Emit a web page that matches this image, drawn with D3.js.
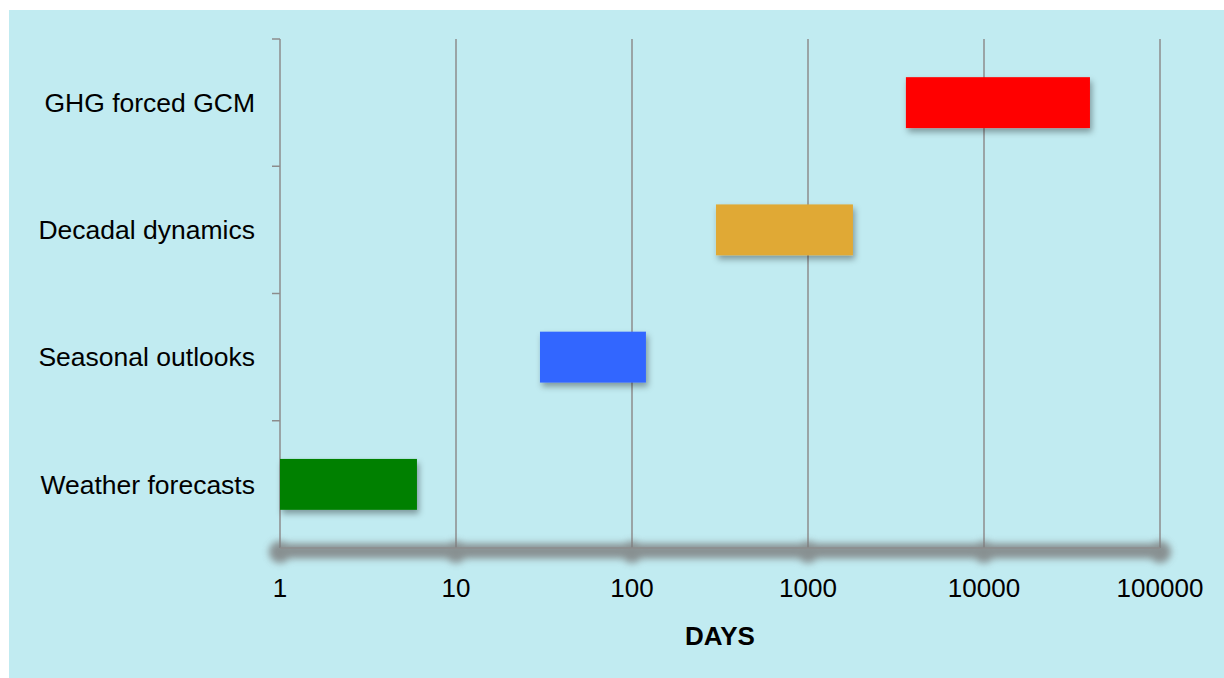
<!DOCTYPE html>
<html>
<head>
<meta charset="utf-8">
<script src="https://cdn.jsdelivr.net/npm/d3@7"></script>
<style>
	body { margin: 0; background: #ffffff; }
	svg text { font-family: "Liberation Sans", Arial, sans-serif; fill: #000000; }
</style>
</head>
<body>
<div id="chart"></div>
<script>
// chart data
var categories = ["Weather forecasts", "Seasonal outlooks", "Decadal dynamics", "GHG forced GCM"];
var startDays = [1, 30, 300, 3600];
var endDays = [6, 120, 1800, 40000];
var barColors = ["#008000", "#3366ff", "#e0a935", "#ff0000"];
var tickValues = [1, 10, 100, 1000, 10000, 100000];
var axisTitle = "DAYS";

var width = 1224, height = 678;

// plot area
var offsetLeft = 280, offsetRight = 64, offsetTop = 39, offsetBottom = 130;

var svg = d3.select("#chart").append("svg")
	.attr("width", width)
	.attr("height", height);

var defs = svg.append("defs");
var shadow = defs.append("filter").attr("id", "barShadow")
	.attr("x", "-20%").attr("y", "-30%").attr("width", "140%").attr("height", "170%");
shadow.append("feDropShadow")
	.attr("dx", 2).attr("dy", 4).attr("stdDeviation", 3)
	.attr("flood-color", "#000").attr("flood-opacity", 0.35);

var blur = defs.append("filter").attr("id", "axisBlur")
	.attr("x", "-5%").attr("y", "-300%").attr("width", "110%").attr("height", "700%");
blur.append("feGaussianBlur").attr("stdDeviation", 3.5);

// background panel
svg.append("rect")
	.attr("x", 9).attr("y", 10)
	.attr("width", width - 9).attr("height", height - 10)
	.attr("fill", "#c1ebf1");

var x = d3.scaleLog()
	.domain([1, 100000])
	.range([offsetLeft, width - offsetRight]);

var y = d3.scaleBand()
	.domain(categories.slice().reverse())
	.range([offsetTop, height - offsetBottom])
	.paddingInner(0.6)
	.paddingOuter(0.3);

var y0 = offsetTop, y1 = height - offsetBottom;

// vertical grid lines
svg.append("g").selectAll("line")
	.data(tickValues)
	.enter()
	.append("line")
	.attr("x1", function(d) { return x(d); })
	.attr("x2", function(d) { return x(d); })
	.attr("y1", y0)
	.attr("y2", y1)
	.attr("stroke", "#8c8c8c")
	.attr("stroke-width", 1.5);

// category tick marks on the left axis (band boundaries)
var boundaries = d3.range(categories.length + 1).map(function(i) { return y0 + i * y.step(); });
svg.append("g").selectAll("line")
	.data(boundaries.slice(0, categories.length))
	.enter()
	.append("line")
	.attr("x1", offsetLeft - 8)
	.attr("x2", offsetLeft)
	.attr("y1", function(d) { return d; })
	.attr("y2", function(d) { return d; })
	.attr("stroke", "#8c8c8c")
	.attr("stroke-width", 1.5);

// blurred x axis with its shadowy tick dots
var axisShadow = svg.append("g").attr("filter", "url(#axisBlur)").attr("opacity", 0.8);
axisShadow.append("line")
	.attr("x1", x(1)).attr("x2", x(100000))
	.attr("y1", y1 + 3).attr("y2", y1 + 3)
	.attr("stroke", "#7a7a7a")
	.attr("stroke-width", 15)
	.attr("stroke-linecap", "round");
axisShadow.selectAll("circle")
	.data(tickValues)
	.enter()
	.append("circle")
	.attr("cx", function(d) { return x(d); })
	.attr("cy", y1 + 4)
	.attr("r", 11)
	.attr("fill", "#7a7a7a");

svg.append("line")
	.attr("x1", x(1)).attr("x2", x(100000))
	.attr("y1", y1).attr("y2", y1)
	.attr("stroke", "#8c8c8c")
	.attr("stroke-width", 1.5);

// bars
svg.append("g").selectAll("rect")
	.data(categories)
	.enter()
	.append("rect")
	.attr("x", function(d, i) { return x(startDays[i]); })
	.attr("y", function(d) { return y(d); })
	.attr("width", function(d, i) { return x(endDays[i]) - x(startDays[i]); })
	.attr("height", y.bandwidth())
	.attr("fill", function(d, i) { return barColors[i]; })
	.attr("filter", "url(#barShadow)");

// category labels
svg.append("g").selectAll("text")
	.data(categories)
	.enter()
	.append("text")
	.text(function(d) { return d; })
	.attr("x", 255)
	.attr("y", function(d) { return y(d) + y.bandwidth() / 2; })
	.attr("dy", "0.35em")
	.attr("text-anchor", "end")
	.style("font-size", "26.5px");

// tick labels
svg.append("g").selectAll("text")
	.data(tickValues)
	.enter()
	.append("text")
	.text(function(d) { return d3.format("d")(d); })
	.attr("x", function(d) { return x(d); })
	.attr("y", 597)
	.attr("text-anchor", "middle")
	.style("font-size", "26px");

// axis title
svg.append("text")
	.text(axisTitle)
	.attr("x", 720)
	.attr("y", 645)
	.attr("text-anchor", "middle")
	.style("font-size", "26px")
	.style("font-weight", "bold");
</script>
</body>
</html>
